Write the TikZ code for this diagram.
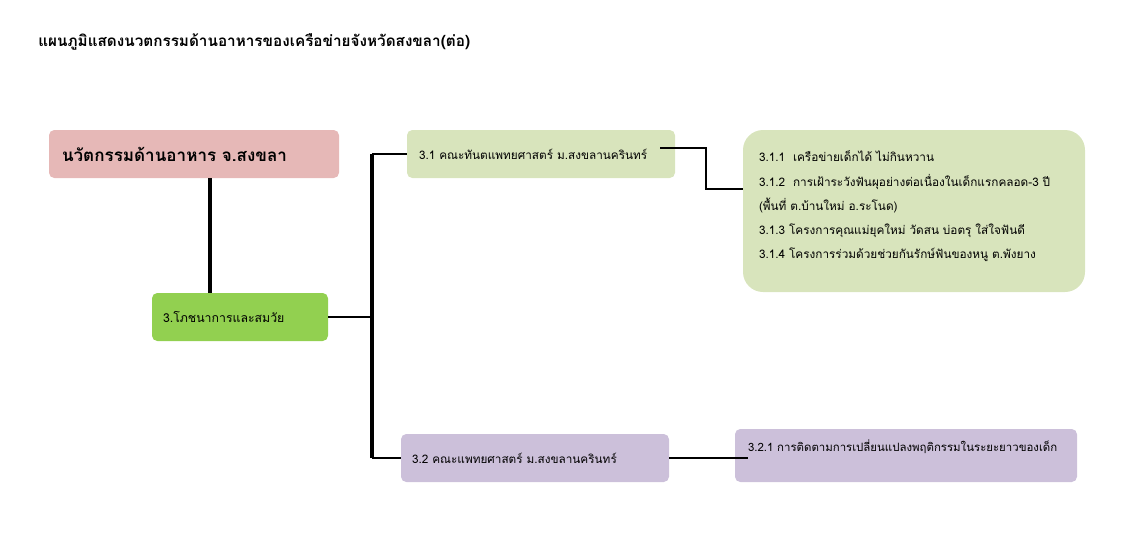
\documentclass[tikz,border=0pt]{standalone}
\usepackage{fontspec}
\setmainfont[Script=Thai]{Loma}
\definecolor{rootpink}{RGB}{230,184,183}
\definecolor{foodgreen}{RGB}{146,208,80}
\definecolor{palegreen}{RGB}{216,228,188}
\definecolor{lavender}{RGB}{204,192,218}

\begin{document}
\begin{tikzpicture}[
    box/.style={rounded corners=3pt, align=left, minimum height=0.96cm, font=\fontsize{6.7}{13.8}\selectfont},
    trunk/.style={line width=2.2pt},
    branch/.style={line width=0.6pt}
  ]
  \useasboundingbox (0,0) rectangle (22.48,-10.76);
  \node[anchor=west, inner sep=0, font=\fontsize{8.7}{12}\selectfont\bfseries] (title) at (0.76,-0.84) {แผนภูมิแสดงนวตกรรมด้านอาหารของเครือข่ายจังหวัดสงขลา(ต่อ)};
  \node[box, fill=rootpink, text width=5.28cm, inner xsep=0.26cm, font=\fontsize{9.7}{12}\selectfont\bfseries] (root) at (3.88,-3.08) {นวัตกรรมด้านอาหาร จ.สงขลา};
  \node[box, fill=foodgreen, text width=3.08cm, inner xsep=0.22cm, font=\fontsize{7}{12}\selectfont] (food) at (4.8,-6.34) {3.โภชนาการและสมวัย};
  \node[box, fill=palegreen, text width=4.88cm, inner xsep=0.24cm] (dent) at (10.82,-3.08) {3.1 คณะทันตแพทยศาสตร์ ม.สงขลานครินทร์};
  \node[box, fill=lavender, text width=4.92cm, inner xsep=0.22cm] (med) at (10.7,-9.16) {3.2 คณะแพทยศาสตร์ ม.สงขลานครินทร์};
  \node[box, fill=palegreen, rounded corners=0.4cm, text width=6.2cm, inner xsep=0.32cm, minimum height=3.24cm] (dentwork) at (18.28,-4.22) {3.1.1 \ เครือข่ายเด็กได้ ไม่กินหวาน\\3.1.2 \ การเฝ้าระวังฟันผุอย่างต่อเนื่องในเด็กแรกคลอด-3 ปี\\(พื้นที่ ต.บ้านใหม่ อ.ระโนด)\\3.1.3 โครงการคุณแม่ยุคใหม่ วัดสน บ่อตรุ ใส่ใจฟันดี\\3.1.4 โครงการร่วมด้วยช่วยกันรักษ์ฟันของหนู ต.พังยาง\\[-7pt]~};
  \node[box, fill=lavender, text width=6.32cm, inner xsep=0.26cm, inner ysep=0.15cm, minimum height=0cm, text height=0.3cm, text depth=0.46cm, font=\fontsize{6.5}{12}\selectfont] (medwork) at (18.12,-9.11) {\mbox{3.2.1 การติดตามการเปลี่ยนแปลงพฤติกรรมในระยะยาวของเด็ก}};
  % connectors
  \coordinate (trunk) at (4.2,0);
  \coordinate (fork) at (7.44,0);
  \coordinate (dentout) at (13.2,-2.96);
  \coordinate (dentin) at (14.86,-3.78);
  \coordinate (medin) at (14.96,0);
  \draw[trunk] (root.south -| trunk) -- (food.north -| trunk);
  \draw[branch] (food.east) -- (food.east -| fork);
  \draw[trunk] (dent.west -| fork) -- (med.west -| fork);
  \draw[branch] (dent.west -| fork) -- (dent.west);
  \draw[branch] (med.west -| fork) -- (med.west);
  \draw[branch] (dentout) -| (14.12,-3.78) -- (dentin);
  \draw[branch] (med.east) -- (med.east -| medin);
\end{tikzpicture}
\end{document}
